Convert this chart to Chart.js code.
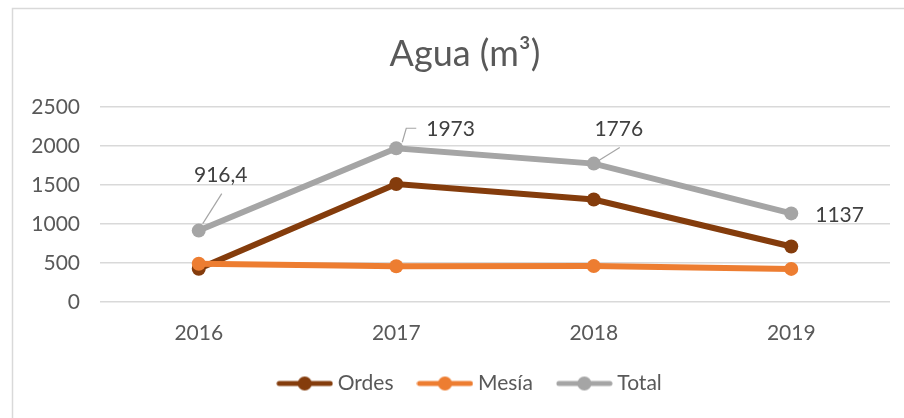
<!DOCTYPE html>
<html lang="es">
<head>
    <meta charset="UTF-8">
    <title>Agua (m³)</title>
    <style>
        html, body { margin: 0; padding: 0; background: #ffffff; }
        #wrap { width: 904px; height: 418px; }
    </style>
</head>
<body>
    <div id="wrap"><canvas id="myChart" width="904" height="418"></canvas></div>

    <script src="https://cdn.jsdelivr.net/npm/chart.js@4.4.0/dist/chart.umd.min.js"></script>
    <script>
        var years = ['2016', '2017', '2018', '2019'];
        var ordes = [426, 1515, 1315, 712];
        var mesia = [490, 458, 461, 425];
        var total = [916.4, 1973, 1776, 1137];
        var yTicks = [0, 500, 1000, 1500, 2000, 2500];

        var textColor = '#595959';
        var gridColor = '#d9d9d9';
        var fontFamily = 'Lato, "Open Sans", sans-serif';

        // where each Total label sits relative to its point (Excel moved them by hand)
        var labelPlace = [
            { dx: 22, dy: -55, align: 'center', leader: [[4, -7], [23, -37]] },
            { dx: 30, dy: -19, align: 'left', leader: [[6, -6], [10, -20], [20, -20]] },
            { dx: 25, dy: -34, align: 'center', leader: [[5, -3], [26, -16]] },
            { dx: 24, dy: 2, align: 'left', leader: null }
        ];

        function legendMark(color) {
            var c = document.createElement('canvas');
            c.width = 57;
            c.height = 16;
            var g = c.getContext('2d');
            g.strokeStyle = color;
            g.lineWidth = 5;
            g.lineCap = 'round';
            g.beginPath();
            g.moveTo(3, 8);
            g.lineTo(54, 8);
            g.stroke();
            g.fillStyle = color;
            g.beginPath();
            g.arc(28.5, 8, 7, 0, Math.PI * 2);
            g.fill();
            return c;
        }

        var frame = {
            id: 'frame',
            // the excel chart frame is wider than the window, so title and legend sit right of centre
            afterLayout: function (chart) {
                chart.titleBlock.left += 20;
                chart.titleBlock.right += 20;
                chart.legend.left += 27;
                chart.legend.right += 27;
            },
            beforeDraw: function (chart) {
                var ctx = chart.ctx;
                ctx.save();
                ctx.fillStyle = '#ffffff';
                ctx.fillRect(0, 0, chart.width, chart.height);
                ctx.strokeStyle = gridColor;
                ctx.lineWidth = 1.5;
                ctx.strokeRect(12.5, 8.5, chart.width + 20, chart.height + 20);
                ctx.restore();
            }
        };

        var totalLabels = {
            id: 'totalLabels',
            afterDatasetsDraw: function (chart) {
                var ctx = chart.ctx;
                var meta = chart.getDatasetMeta(2);
                ctx.save();
                ctx.font = '21px ' + fontFamily;
                ctx.fillStyle = '#404040';
                ctx.textBaseline = 'middle';
                meta.data.forEach(function (pt, i) {
                    var p = labelPlace[i];
                    if (p.leader) {
                        ctx.strokeStyle = '#a5a5a5';
                        ctx.lineWidth = 1.2;
                        ctx.beginPath();
                        p.leader.forEach(function (q, k) {
                            if (k === 0) ctx.moveTo(pt.x + q[0], pt.y + q[1]);
                            else ctx.lineTo(pt.x + q[0], pt.y + q[1]);
                        });
                        ctx.stroke();
                    }
                    ctx.textAlign = p.align;
                    ctx.fillText(String(total[i]).replace('.', ','), pt.x + p.dx, pt.y + p.dy);
                });
                ctx.restore();
            }
        };

        function series(label, data, color, order) {
            return {
                label: label,
                data: data,
                borderColor: color,
                backgroundColor: color,
                pointBackgroundColor: color,
                pointBorderColor: color,
                borderWidth: 6,
                pointRadius: 7,
                pointBorderWidth: 0,
                tension: 0,
                order: order
            };
        }

        var ctx = document.getElementById('myChart').getContext('2d');
        var myChart = new Chart(ctx, {
            type: 'line',
            data: {
                labels: years,
                datasets: [
                    series('Ordes', ordes, '#843c0c', 3),
                    series('Mesía', mesia, '#ed7d31', 2),
                    series('Total', total, '#a5a5a5', 1)
                ]
            },
            options: {
                responsive: false,
                animation: false,
                layout: { padding: { left: 0, right: 14, top: 0, bottom: 14 } },
                plugins: {
                    tooltip: { enabled: false },
                    title: {
                        display: true,
                        text: 'Agua (m³)',
                        color: textColor,
                        font: { family: fontFamily, size: 36, weight: 'normal' },
                        padding: { top: 33, bottom: 31 }
                    },
                    legend: {
                        position: 'bottom',
                        labels: {
                            color: textColor,
                            font: { family: fontFamily, size: 21 },
                            usePointStyle: true,
                            pointStyleWidth: 45,
                            padding: 29,
                            generateLabels: function (chart) {
                                return chart.data.datasets.map(function (ds, i) {
                                    return {
                                        text: ds.label,
                                        fillStyle: ds.borderColor,
                                        strokeStyle: ds.borderColor,
                                        lineWidth: 0,
                                        pointStyle: legendMark(ds.borderColor),
                                        fontColor: textColor,
                                        hidden: false,
                                        datasetIndex: i
                                    };
                                });
                            }
                        }
                    }
                },
                scales: {
                    x: {
                        offset: true,
                        grid: { display: false },
                        border: { display: false },
                        ticks: {
                            color: textColor,
                            font: { family: fontFamily, size: 21 },
                            padding: 11,
                            maxRotation: 0
                        },
                        afterFit: function (scale) { scale.height = 42; }
                    },
                    y: {
                        min: 0,
                        max: 2500,
                        afterBuildTicks: function (scale) {
                            scale.ticks = yTicks.map(function (v) { return { value: v }; });
                        },
                        grid: { color: gridColor, lineWidth: 1.5, drawTicks: false },
                        border: { display: false },
                        ticks: {
                            color: textColor,
                            font: { family: fontFamily, size: 21 },
                            padding: 20,
                            callback: function (v) { return String(v); }
                        },
                        afterFit: function (scale) { scale.width = 100; }
                    }
                }
            },
            plugins: [frame, totalLabels]
        });
    </script>
</body>
</html>
